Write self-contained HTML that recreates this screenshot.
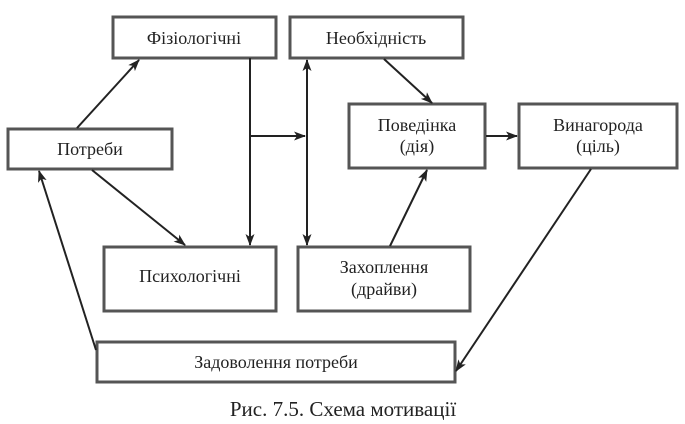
<!DOCTYPE html>
<html><head><meta charset="utf-8"><style>
html,body{margin:0;padding:0;background:#fff;}
svg{display:block}
text{font-family:"Liberation Serif","DejaVu Serif",serif;font-size:18px;fill:#222;text-anchor:middle}
rect{fill:#fff;stroke:#555;stroke-width:3}
line{stroke:#222;stroke-width:2}
</style></head><body>
<svg width="685" height="424" viewBox="0 0 685 424">
<defs><marker id="a" markerWidth="12" markerHeight="10" refX="11" refY="5" orient="auto" markerUnits="userSpaceOnUse"><path d="M0,0.5 L12,5 L0,9.5 L3,5 Z" fill="#222"/></marker></defs>
<rect x="113" y="17" width="163" height="41"/>
<rect x="290" y="17" width="173" height="41"/>
<rect x="8" y="129" width="164" height="40"/>
<rect x="349" y="104" width="136" height="64"/>
<rect x="519" y="104" width="158" height="64"/>
<rect x="104" y="247" width="172" height="64"/>
<rect x="298" y="247" width="172" height="64"/>
<rect x="97" y="342" width="358" height="40"/>
<text x="194" y="44">Фізіологічні</text>
<text x="376" y="44">Необхідність</text>
<text x="90" y="155">Потреби</text>
<text x="417" y="131">Поведінка</text>
<text x="417" y="152">(дія)</text>
<text x="598" y="131">Винагорода</text>
<text x="598" y="152">(ціль)</text>
<text x="190" y="282">Психологічні</text>
<text x="384" y="273">Захоплення</text>
<text x="384" y="295">(драйви)</text>
<text x="276" y="368">Задоволення потреби</text>
<text x="343" y="416" style="font-size:21px">Рис. 7.5. Схема мотивації</text>
<line x1="77" y1="128" x2="139" y2="60" marker-end="url(#a)"/>
<line x1="92" y1="170" x2="185" y2="245" marker-end="url(#a)"/>
<line x1="250" y1="58" x2="250" y2="245" marker-end="url(#a)"/>
<line x1="250" y1="136" x2="305" y2="136" marker-end="url(#a)"/>
<line x1="307" y1="70" x2="307" y2="245" marker-end="url(#a)"/>
<line x1="307" y1="235" x2="307" y2="60" marker-end="url(#a)"/>
<line x1="384" y1="59" x2="432" y2="103" marker-end="url(#a)"/>
<line x1="390" y1="246" x2="427" y2="170" marker-end="url(#a)"/>
<line x1="486" y1="136" x2="517" y2="136" marker-end="url(#a)"/>
<line x1="591" y1="169" x2="456" y2="371" marker-end="url(#a)"/>
<line x1="96" y1="350" x2="39" y2="171" marker-end="url(#a)"/>
</svg>
</body></html>
